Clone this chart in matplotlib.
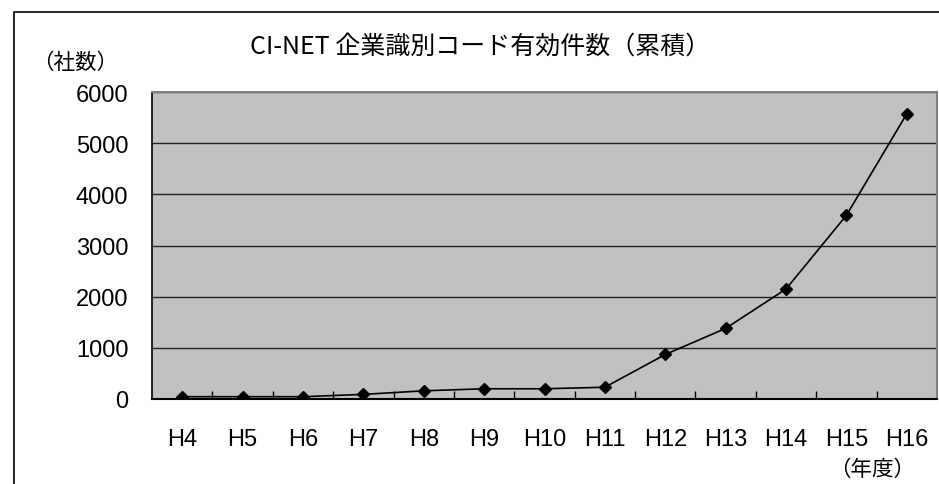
import matplotlib
matplotlib.use("Agg")
import matplotlib.pyplot as plt
from matplotlib.patches import Rectangle

plt.rcParams['font.family'] = ['Noto Sans CJK JP', 'DejaVu Sans']

# data
years = ["H4", "H5", "H6", "H7", "H8", "H9", "H10", "H11", "H12", "H13", "H14", "H15", "H16"]
counts = [45, 45, 45, 90, 160, 200, 200, 230, 870, 1380, 2150, 3590, 5575]
yticks = [0, 1000, 2000, 3000, 4000, 5000, 6000]

W, H = 939, 485
fig = plt.figure(figsize=(W / 100, H / 100), dpi=100)

# outer chart frame
fig.patches.append(Rectangle((14 / W, -0.1), 1.2, 1.1 - 13 / H, transform=fig.transFigure,
                             fill=False, edgecolor="black", linewidth=1.2))

ax = fig.add_axes([152 / W, (H - 400) / H, 785 / W, 307 / H])
ax.set_facecolor("#c0c0c0")

x = list(range(len(years)))
ax.plot(x, counts, color="black", linewidth=1.2, marker="D", markersize=6.5,
        markerfacecolor="black", markeredgecolor="black", zorder=3)

ax.set_xlim(-0.5, len(years) - 0.5)
ax.set_ylim(0, 6000)
ax.set_yticks(yticks)
ax.set_yticklabels([str(v) for v in yticks], fontsize=17, family="Liberation Sans")
ax.set_xticks(x)
ax.set_xticklabels(years, fontsize=17, family="Liberation Sans")
ax.set_xticks([i + 0.5 for i in x[:-1]], minor=True)

ax.tick_params(axis="y", length=0, pad=17)
ax.tick_params(axis="x", which="major", length=0, pad=21)
ax.tick_params(axis="x", which="minor", direction="in", length=6, width=1, color="black")

ax.grid(axis="y", color="#222222", linewidth=1)
ax.set_axisbelow(True)

for side in ["top", "right"]:
    ax.spines[side].set_color("#808080")
    ax.spines[side].set_linewidth(1.5)
ax.spines["left"].set_color("black")
ax.spines["bottom"].set_color("black")
ax.spines["left"].set_linewidth(1.2)
ax.spines["bottom"].set_linewidth(1.5)

fig.text(480 / W, 1 - 47 / H, "CI-NET 企業識別コード有効件数（累積）", fontsize=18,
         ha="center", va="center")
fig.text(75 / W, 1 - 63 / H, "（社数）", fontsize=15.5, ha="center", va="center")
fig.text(872 / W, 1 - 470 / H, "（年度）", fontsize=15.5, ha="center", va="center")

fig.savefig("out.png", dpi=100)
